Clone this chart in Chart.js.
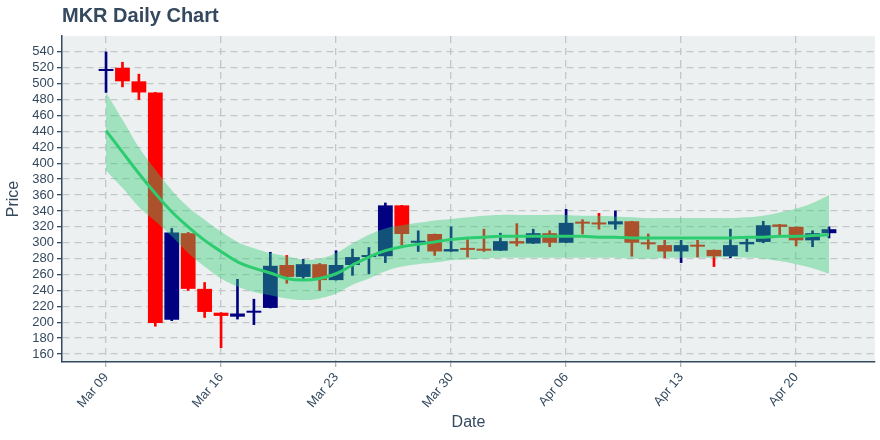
<!DOCTYPE html>
<html>
<head>
<meta charset="utf-8">
<script src="https://cdn.jsdelivr.net/npm/chart.js@4.4.1/dist/chart.umd.min.js"></script>
<style>
  html, body { margin: 0; background: #fff; }
</style>
</head>
<body>
<canvas id="chart" width="880" height="440"></canvas>
<script>
const dates = ["Mar 09","Mar 10","Mar 11","Mar 12","Mar 13","Mar 14","Mar 15","Mar 16","Mar 17","Mar 18",
  "Mar 19","Mar 20","Mar 21","Mar 22","Mar 23","Mar 24","Mar 25","Mar 26","Mar 27","Mar 28","Mar 29",
  "Mar 30","Mar 31","Apr 01","Apr 02","Apr 03","Apr 04","Apr 05","Apr 06","Apr 07","Apr 08","Apr 09",
  "Apr 10","Apr 11","Apr 12","Apr 13","Apr 14","Apr 15","Apr 16","Apr 17","Apr 18","Apr 19","Apr 20",
  "Apr 21","Apr 22"];

const open  = [516,520,503,489,203,312,242,212,207,212, 218,272,257,273,253,272,282,283,347,300,311,
  289,292,291,290,302,299,312,300,325,324,323, 327,300,297,289,297,291,283,298,301,323,320, 303,312];
const high  = [540,527,512,489,318,313,250,212,254,229, 288,284,279,274,290,292,294,350,347,315,311,
  320,304,317,312,324,317,315,342,329,337,340, 327,311,303,303,303,291,317,305,327,323,320, 315,320];
const low   = [489,496,480,195,202,240,206,168,204,197, 218,249,255,240,253,259,261,275,297,289,284,
  289,282,289,290,296,299,295,300,311,317,317, 283,292,281,275,282,270,281,289,300,310,296, 295,306];
const close = [518,503,489,199,313,242,213,208,211,214, 271,257,273,253,272,282,283,347,311,301,289,
  292,291,290,302,299,312,300,325,324,323,327, 300,298,289,297,295,283,297,301,322,320,303, 312,317];

// trend fit and its band
const fit   = [441,414,387,362,339,320,303,289,276,268, 262,255,253,255,261,272,282,290,295,298,301,
  304,306,307,308,308,308,308,308,308,307,307, 306,306,306,306,306,306,306,307,307,308,308, 309,310];
const upper = [489,455,420,392,366,345,329,314,301,293, 287,283,279,280,287,299,310,318,322,325,328,
  330,332,334,335,335,335,335,335,334,334,333, 332,331,331,331,331,331,331,332,334,338,343, 350,360];
const lower = [391,369,345,327,308,287,270,255,245,238, 234,230,228,230,236,247,255,264,270,273,275,
  278,279,280,281,281,281,281,281,281,281,281, 280,280,281,281,281,281,282,281,280,277,273, 268,261];

const xTickIdx = [0, 7, 14, 21, 28, 35, 42];
const yTicks = [160,180,200,220,240,260,280,300,320,340,360,380,400,420,440,460,480,500,520,540];

const UP = "#000080";
const DOWN = "#ff0000";
const candleColors = close.map((c, i) => (c >= open[i] ? UP : DOWN));

Chart.defaults.font.family = "'Liberation Sans', Arial, sans-serif";

const plotBg = {
  id: "plotBg",
  beforeDraw(chart) {
    const { ctx, chartArea: a } = chart;
    ctx.save();
    ctx.fillStyle = "#ecf0f1";
    ctx.fillRect(a.left, a.top, a.right - a.left, a.bottom - a.top);
    ctx.restore();
  }
};

const pts = arr => arr.map((v, i) => ({ x: i, y: v }));

new Chart(document.getElementById("chart"), {
  type: "bar",
  data: {
    datasets: [
      {
        type: "line",
        data: pts(fit),
        borderColor: "#2ecc71",
        borderWidth: 3,
        pointRadius: 0,
        tension: 0.4,
        fill: false,
        order: 0
      },
      {
        type: "line",
        data: pts(upper),
        borderWidth: 0,
        borderColor: "rgba(0,0,0,0)",
        backgroundColor: "rgba(46,204,113,0.4)",
        pointRadius: 0,
        tension: 0.4,
        fill: "+1",
        order: 1
      },
      {
        type: "line",
        data: pts(lower),
        borderWidth: 0,
        borderColor: "rgba(0,0,0,0)",
        pointRadius: 0,
        tension: 0.4,
        fill: false,
        order: 1
      },
      {
        data: open.map((o, i) => ({ x: i, y: [o, close[i]] })),
        backgroundColor: candleColors,
        grouped: false,
        barPercentage: 0.9,
        categoryPercentage: 1,
        minBarLength: 2,
        order: 2
      },
      {
        data: low.map((l, i) => ({ x: i, y: [l, high[i]] })),
        backgroundColor: candleColors,
        grouped: false,
        barThickness: 2,
        order: 3
      }
    ]
  },
  options: {
    responsive: false,
    animation: false,
    layout: { padding: { right: 5 } },
    plugins: {
      legend: { display: false },
      tooltip: { enabled: false },
      title: {
        display: true,
        text: "MKR Daily Chart",
        align: "start",
        fullSize: false,
        color: "#34495e",
        font: { size: 20, weight: "bold" },
        padding: { top: 4, bottom: 8 }
      }
    },
    scales: {
      x: {
        type: "linear",
        min: -2.68,
        max: 46.8,
        offset: false,
        afterBuildTicks: s => { s.ticks = xTickIdx.map(v => ({ value: v })); },
        afterFit: s => { s.height = 78; },
        ticks: {
          autoSkip: false,
          minRotation: 50,
          maxRotation: 50,
          color: "#34495e",
          font: { size: 13 },
          callback: v => dates[v]
        },
        grid: {
          offset: false,
          color: "#c3c7c9",
          lineWidth: 1.3,
          tickColor: "#b0b4b6",
          tickLength: 5,
          tickBorderDash: []
        },
        border: { display: true, color: "#34495e", width: 1.5, dash: [7, 5] },
        title: {
          display: true,
          text: "Date",
          color: "#34495e",
          font: { size: 16 },
          padding: { top: 4, bottom: 8 }
        }
      },
      y: {
        min: 150,
        max: 560,
        afterBuildTicks: s => { s.ticks = yTicks.map(v => ({ value: v })); },
        afterFit: s => { s.width = 62; },
        ticks: { autoSkip: false, color: "#34495e", font: { size: 13 }, padding: 3 },
        grid: {
          color: "#c3c7c9",
          lineWidth: 1.3,
          tickColor: "#34495e",
          tickLength: 5,
          tickBorderDash: []
        },
        border: { display: true, color: "#34495e", width: 1.5, dash: [7, 5] },
        title: {
          display: true,
          text: "Price",
          color: "#34495e",
          font: { size: 16 },
          padding: { top: 4, bottom: 4 }
        }
      }
    }
  },
  plugins: [plotBg]
});
</script>
</body>
</html>
